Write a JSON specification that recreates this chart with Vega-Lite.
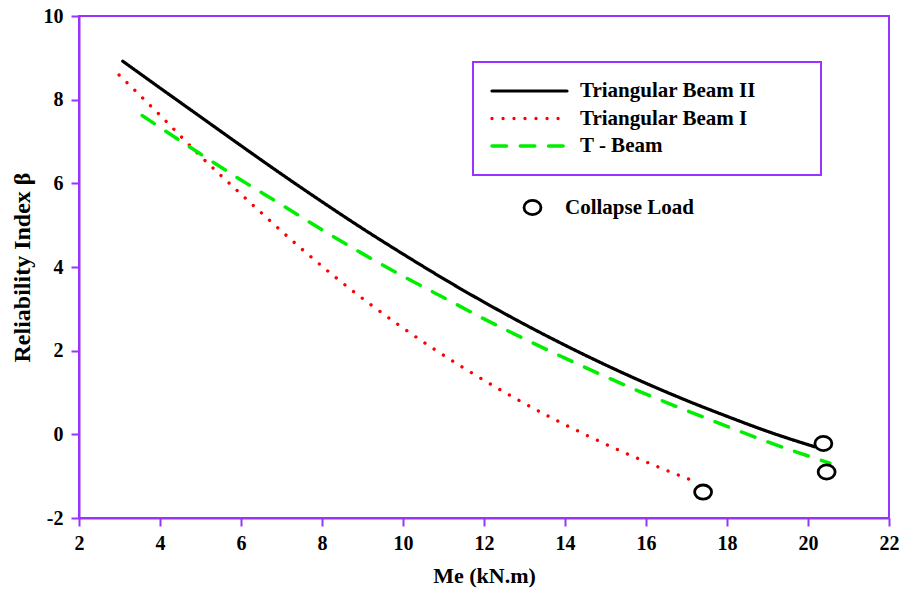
{
  "$schema": "https://vega.github.io/schema/vega-lite/v6.json",
  "width": 810,
  "height": 502,
  "autosize": {"type": "none"},
  "padding": {"left": 79, "top": 16, "right": 28, "bottom": 74},
  "background": "white",
  "config": {
    "view": {"stroke": "#9933ff", "strokeWidth": 2},
    "axis": {
      "grid": false,
      "domainColor": "#9933ff",
      "domainWidth": 2,
      "tickColor": "#9933ff",
      "tickWidth": 2,
      "tickSize": 8,
      "labelFont": "Liberation Serif",
      "labelFontWeight": "bold",
      "labelFontSize": 20,
      "labelColor": "black",
      "labelFlush": false,
      "labelOverlap": false,
      "titleFont": "Liberation Serif",
      "titleFontWeight": "bold",
      "titleFontSize": 22,
      "titleColor": "black"
    }
  },
  "datasets": {
    "curves": [
      {"series": "Triangular Beam II", "me": 3.08, "beta": 8.92},
      {"series": "Triangular Beam II", "me": 4, "beta": 8.28},
      {"series": "Triangular Beam II", "me": 5, "beta": 7.59},
      {"series": "Triangular Beam II", "me": 6, "beta": 6.9},
      {"series": "Triangular Beam II", "me": 7, "beta": 6.22},
      {"series": "Triangular Beam II", "me": 8, "beta": 5.56},
      {"series": "Triangular Beam II", "me": 9, "beta": 4.92},
      {"series": "Triangular Beam II", "me": 10, "beta": 4.31},
      {"series": "Triangular Beam II", "me": 11, "beta": 3.72},
      {"series": "Triangular Beam II", "me": 12, "beta": 3.16},
      {"series": "Triangular Beam II", "me": 13, "beta": 2.63},
      {"series": "Triangular Beam II", "me": 14, "beta": 2.13},
      {"series": "Triangular Beam II", "me": 15, "beta": 1.66},
      {"series": "Triangular Beam II", "me": 16, "beta": 1.22},
      {"series": "Triangular Beam II", "me": 17, "beta": 0.81},
      {"series": "Triangular Beam II", "me": 18, "beta": 0.43},
      {"series": "Triangular Beam II", "me": 19, "beta": 0.07},
      {"series": "Triangular Beam II", "me": 20.17, "beta": -0.3},
      {"series": "Triangular Beam I", "me": 2.99, "beta": 8.59},
      {"series": "Triangular Beam I", "me": 4.0, "beta": 7.63},
      {"series": "Triangular Beam I", "me": 5.0, "beta": 6.65},
      {"series": "Triangular Beam I", "me": 6.06, "beta": 5.69},
      {"series": "Triangular Beam I", "me": 7.37, "beta": 4.54},
      {"series": "Triangular Beam I", "me": 8.3, "beta": 3.78},
      {"series": "Triangular Beam I", "me": 9.93, "beta": 2.59},
      {"series": "Triangular Beam I", "me": 11.56, "beta": 1.55},
      {"series": "Triangular Beam I", "me": 12.7, "beta": 0.9},
      {"series": "Triangular Beam I", "me": 13.88, "beta": 0.29},
      {"series": "Triangular Beam I", "me": 15.52, "beta": -0.46},
      {"series": "Triangular Beam I", "me": 17.13, "beta": -1.1},
      {"series": "T - Beam", "me": 3.56, "beta": 7.62},
      {"series": "T - Beam", "me": 5, "beta": 6.7},
      {"series": "T - Beam", "me": 6, "beta": 6.08},
      {"series": "T - Beam", "me": 7, "beta": 5.49},
      {"series": "T - Beam", "me": 8, "beta": 4.89},
      {"series": "T - Beam", "me": 9, "beta": 4.32},
      {"series": "T - Beam", "me": 10, "beta": 3.78},
      {"series": "T - Beam", "me": 11, "beta": 3.27},
      {"series": "T - Beam", "me": 12, "beta": 2.76},
      {"series": "T - Beam", "me": 13, "beta": 2.28},
      {"series": "T - Beam", "me": 14, "beta": 1.82},
      {"series": "T - Beam", "me": 15, "beta": 1.38},
      {"series": "T - Beam", "me": 16, "beta": 0.96},
      {"series": "T - Beam", "me": 17, "beta": 0.57},
      {"series": "T - Beam", "me": 18, "beta": 0.19},
      {"series": "T - Beam", "me": 19, "beta": -0.18},
      {"series": "T - Beam", "me": 20.54, "beta": -0.69}
    ],
    "collapse": [
      {"me": 20.38, "beta": -0.22},
      {"me": 20.46, "beta": -0.9},
      {"me": 17.41, "beta": -1.38}
    ]
  },
  "layer": [
    {
      "data": {"name": "curves"},
      "mark": {"type": "line", "interpolate": "monotone", "strokeCap": "round", "strokeJoin": "round"},
      "encoding": {
        "x": {
          "field": "me", "type": "quantitative",
          "scale": {"domain": [2, 22], "nice": false, "zero": false},
          "axis": {"values": [2, 4, 6, 8, 10, 12, 14, 16, 18, 20, 22], "title": "Me (kN.m)", "labelPadding": 7, "titlePadding": 12}
        },
        "y": {
          "field": "beta", "type": "quantitative",
          "scale": {"domain": [-2, 10], "nice": false, "zero": false},
          "axis": {"values": [-2, 0, 2, 4, 6, 8, 10], "title": "Reliability Index β", "titleFontSize": 24, "labelPadding": 8, "titlePadding": 9, "labelExpr": "toString(datum.value)"}
        },
        "color": {
          "field": "series", "type": "nominal",
          "scale": {"domain": ["Triangular Beam II", "Triangular Beam I", "T - Beam"], "range": ["#000000", "#ff0000", "#00ee00"]},
          "legend": {
            "orient": "none", "legendX": 394, "legendY": 46, "title": null,
            "symbolType": "stroke", "symbolSize": 5625, "symbolStrokeWidth": 3.5,
            "clipHeight": 24, "rowPadding": 3.5, "labelOffset": 11, "padding": 17,
            "strokeColor": "#9933ff",
            "labelFont": "Liberation Serif", "labelFontWeight": "bold", "labelFontSize": 21, "labelColor": "black",
            "labelLimit": 600,
            "labelExpr": "datum.label + '\u00a0\u00a0\u00a0\u00a0\u00a0\u00a0\u00a0\u00a0\u00a0\u200b'",
            "encode": {"symbols": {"update": {"strokeCap": {"value": "round"}}}, "legend": {"update": {"strokeWidth": {"value": 2}}}},
            "encoding": {"symbols": {"update": {"strokeCap": {"value": "round"}}}, "legend": {"update": {"strokeWidth": {"value": 2}}}}
          }
        },
        "strokeDash": {
          "field": "series", "type": "nominal",
          "scale": {"domain": ["Triangular Beam II", "Triangular Beam I", "T - Beam"], "range": [[1, 0], [0.01, 11], [14.5, 13.8]]},
          "legend": {
            "orient": "none", "legendX": 394, "legendY": 46, "title": null,
            "symbolType": "stroke", "symbolSize": 5625, "symbolStrokeWidth": 3.5,
            "clipHeight": 24, "rowPadding": 3.5, "labelOffset": 11, "padding": 17,
            "strokeColor": "#9933ff",
            "labelFont": "Liberation Serif", "labelFontWeight": "bold", "labelFontSize": 21, "labelColor": "black",
            "labelLimit": 600,
            "labelExpr": "datum.label + '\u00a0\u00a0\u00a0\u00a0\u00a0\u00a0\u00a0\u00a0\u00a0\u200b'",
            "encode": {"symbols": {"update": {"strokeCap": {"value": "round"}}}, "legend": {"update": {"strokeWidth": {"value": 2}}}},
            "encoding": {"symbols": {"update": {"strokeCap": {"value": "round"}}}, "legend": {"update": {"strokeWidth": {"value": 2}}}}
          }
        },
        "strokeWidth": {
          "field": "series", "type": "ordinal",
          "scale": {"domain": ["Triangular Beam II", "Triangular Beam I", "T - Beam"], "range": [3.2, 3.5, 4]},
          "legend": null
        }
      }
    },
    {
      "data": {"name": "collapse"},
      "mark": {"type": "point", "filled": false, "color": "black", "strokeWidth": 2.8, "size": 200, "opacity": 1},
      "encoding": {
        "x": {"field": "me", "type": "quantitative"},
        "y": {"field": "beta", "type": "quantitative"},
        "shape": {
          "datum": "Collapse Load", "type": "nominal",
          "scale": {"range": ["M-1.2,0A1.2,1,0,1,0,1.2,0A1.2,1,0,1,0,-1.2,0Z"]},
          "legend": {
            "orient": "none", "legendX": 443, "legendY": 181, "title": null, "padding": 0,
            "symbolSize": 200, "symbolStrokeWidth": 2.8, "symbolStrokeColor": "black", "symbolFillColor": "transparent",
            "labelOffset": 22,
            "labelFont": "Liberation Serif", "labelFontWeight": "bold", "labelFontSize": 21, "labelColor": "black", "labelLimit": 500
          }
        }
      }
    }
  ]
}
